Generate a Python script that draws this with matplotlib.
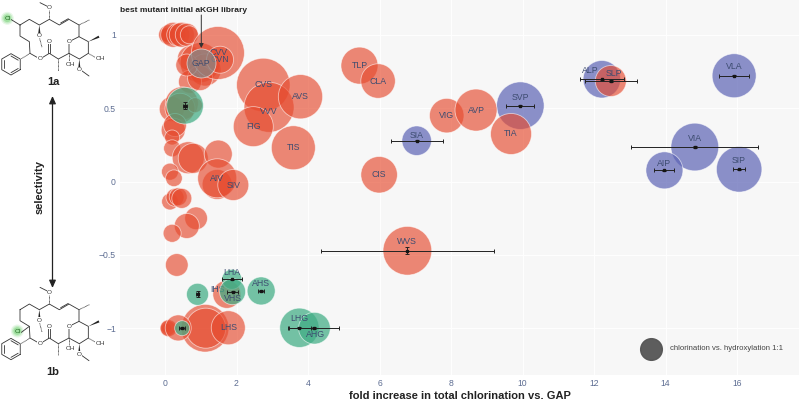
import numpy as np
import matplotlib
matplotlib.use("Agg")
import matplotlib.pyplot as plt
from matplotlib.patches import Circle, Polygon

plt.rcParams['font.family'] = ['Liberation Sans', 'DejaVu Sans']

# red mutants, unlabelled ones have an empty name
red_names = ["TLP", "CLA", "VIG", "AVP", "TIA", "CIS", "WVS", "SLP", "CVV", "CVN", "CVS", "VVV", "AVS", "FIG", "TIS",
             "AIV", "SIV", "IHS", "LHS"]
red_x = [5.44, 5.96, 7.88, 8.70, 9.68, 5.99, 6.78, 12.47, 1.48, 1.54, 2.75, 2.91, 3.79, 2.47, 3.59,
         1.46, 1.91, 1.73, 1.77]
red_y = [0.79, 0.685, 0.449, 0.487, 0.324, 0.046, -0.472, 0.685, 0.876, 0.83, 0.658, 0.506, 0.578, 0.374, 0.23,
         0.022, -0.024, -0.769, -0.997]
red_d = [37, 34.5, 34.5, 42, 41, 36.5, 48.7, 31, 53, 27, 53.5, 50, 44.3, 40, 44,
         39, 31, 28, 34]

small_x = [0.03, 0.07, 0.10, 0.23, 0.37, 0.47, 0.61, 0.68, 0.70, 0.98, 1.12, 0.70, 0.98, 0.61,
           0.19, 0.47, 0.42, 0.84, 0.23, 0.28, 0.20, 0.20, 0.65, 0.79, 1.49, 1.46, 0.14, 0.25,
           0.14, 0.28, 0.37, 0.47, 0.87, 0.61, 0.20, 0.33, 1.12, 1.14, 0.04, 0.08, 0.10, 0.37]
small_y = [1.0, 1.0, 1.0, 1.0, 1.0, 1.0, 1.0, 1.0, 0.84, 0.81, 0.76, 0.68, 0.705, 0.794,
           0.494, 0.533, 0.499, 0.52, 0.35, 0.385, 0.30, 0.226, 0.162, 0.158, 0.187, -0.02, 0.067, 0.022,
           -0.137, -0.108, -0.104, -0.115, -0.251, -0.303, -0.353, -0.569, -1.0, -1.0, -1.0, -1.0, -1.0, -0.998]
small_d = [13, 15, 20, 25, 23, 25, 23, 18, 25, 40, 32, 23, 25, 22,
           25, 33, 30, 15, 24, 23, 15, 17, 32, 30, 28, 30, 17, 16.7,
           16.7, 18, 18, 20, 22.7, 25, 18, 22.7, 47.7, 40, 10, 15, 17, 26]

blue_names = ["SIA", "SVP", "ALP", "VLA", "VIA", "AIP", "SIP"]
blue_x = [7.04, 9.94, 12.22, 15.92, 14.82, 13.97, 16.06]
blue_y = [0.278, 0.517, 0.697, 0.721, 0.235, 0.076, 0.083]
blue_d = [29.5, 47.5, 37.5, 44, 47.7, 37, 45.5]

green_names = ["", "LHA", "AHS", "VHS", "", "", "LHG", "AHG"]
green_x = [0.56, 1.87, 2.69, 1.89, 0.91, 0.48, 3.76, 4.18]
green_y = [0.517, -0.667, -0.746, -0.751, -0.769, -1.0, -0.997, -1.0]
green_d = [36.7, 20, 28, 26, 22, 15, 39.3, 31.7]

gap_x, gap_y, gap_d = [1.0], [0.806], [29]
key_x, key_y, key_d = [13.6], [-1.14], [21.7]

err_x = [9.94, 7.04, 12.22, 12.47, 15.92, 14.82, 13.97, 16.06, 6.78, 0.56, 1.87, 2.69, 1.89, 0.91, 0.48, 3.76, 4.18]
err_y = [0.517, 0.278, 0.697, 0.685, 0.721, 0.235, 0.076, 0.083, -0.472, 0.517, -0.667, -0.746, -0.751, -0.769,
         -1.0, -0.997, -1.0]
err_dx = [0.39, 0.73, 0.625, 0.73, 0.41, 1.78, 0.28, 0.16, 2.43, 0.06, 0.27, 0.09, 0.15, 0.03, 0.075, 0.32, 0.70]
err_dy = [0.005, 0.005, 0.005, 0.005, 0.005, 0.005, 0.005, 0.005, 0.023, 0.024, 0.005, 0.005, 0.005, 0.02,
          0.005, 0.005, 0.005]

x_ticks = [0, 2, 4, 6, 8, 10, 12, 14, 16]
y_ticks = [-1, -0.5, 0, 0.5, 1]
y_tick_labels = ["\u22121", "\u22120.5", "0", "0.5", "1"]

# text shift off the bubble centre, pixels
label_shift = {"SVP": (0, 8), "SIA": (0, 5), "VLA": (0, 9), "LHA": (0, 7), "AHS": (0, 7), "VHS": (0, -7),
               "LHG": (0, 9), "AHG": (1, -6), "AIP": (0, 7), "SIP": (0, 9), "VIA": (0, 9), "ALP": (-12, 9),
               "SLP": (3, 8), "WVS": (0, 9), "IHS": (-9, 5), "CVV": (1, 0), "CVS": (0, 0), "VVV": (0, -4)}

RED = (0.90, 0.29, 0.18, 0.65)
BLUE = (0.36, 0.39, 0.71, 0.7)
GREEN = (0.25, 0.68, 0.52, 0.72)
GREY = (0.53, 0.53, 0.53, 0.75)
RIM = (1, 1, 1, 0.6)
TICK = "#5d6d92"
LABEL = "#3d4c70"

fig = plt.figure(figsize=(7.99, 4), dpi=100)
ax = fig.add_axes([120 / 799, 25 / 400, 679 / 799, 375 / 400])
ax.set_xlim((120 - 165) / 35.75, (799 - 165) / 35.75)
ax.set_ylim((181.5 - 375) / 146.7, 181.5 / 146.7)
ax.set_facecolor("#f7f7f7")
for s in ax.spines.values():
    s.set_visible(False)
ax.grid(color="white", lw=0.7)
ax.set_axisbelow(True)
ax.set_xticks(x_ticks)
ax.set_yticks(y_ticks, y_tick_labels)
ax.tick_params(length=0, labelsize=6.2, labelcolor=TICK, pad=3)
ax.set_xlabel("fold increase in total chlorination vs. GAP", fontsize=8, fontweight="bold", color="#222222", labelpad=2)


def bubbles(x, y, d, color, z):
    area = (np.array(d) * 72 / 100) ** 2
    ax.scatter(x, y, s=area, color=[color], edgecolors=[RIM], linewidths=0.6, zorder=z)


def names(names_list, x, y, z):
    for n, a, b in zip(names_list, x, y):
        if n:
            ax.annotate(n, (a, b), xytext=label_shift.get(n, (0, 0)), textcoords="offset pixels", ha="center",
                        va="center", fontsize=6.3, color=LABEL, zorder=z)


bubbles(blue_x, blue_y, blue_d, BLUE, 2)
names(blue_names, blue_x, blue_y, 2.5)
bubbles(small_x, small_y, small_d, RED, 3)
bubbles(red_x, red_y, red_d, RED, 3)
names(red_names, red_x, red_y, 3.5)
bubbles(gap_x, gap_y, gap_d, GREY, 4)
ax.annotate("GAP", (gap_x[0], gap_y[0]), ha="center", va="center", fontsize=6.3, color=LABEL, zorder=4.5)
bubbles(green_x, green_y, green_d, GREEN, 5)
names(green_names, green_x, green_y, 5.5)
ax.scatter(key_x, key_y, s=(np.array(key_d) * 0.72) ** 2, color="#555555", alpha=0.95, zorder=3)
ax.annotate("chlorination vs. hydroxylation 1:1", (key_x[0], key_y[0]), xytext=(19, 0), textcoords="offset pixels",
            va="center", fontsize=5.6, color="#444444")

ax.errorbar(err_x, err_y, xerr=err_dx, yerr=err_dy, fmt="s", ms=1.8, color="#151515", ecolor="#222222",
            elinewidth=0.7, capsize=1.4, capthick=0.7, zorder=7)

# everything outside the plot sits on a pixel overlay
ov = fig.add_axes([0, 0, 1, 1])
ov.set_xlim(0, 799)
ov.set_ylim(400, 0)
ov.axis("off")
ov.patch.set_alpha(0)

ov.text(183, 10.5, "best mutant initial aKGH library", ha="center", va="center", fontsize=6, fontweight="bold",
        color="#222222")
ov.annotate("", xy=(201.3, 48), xytext=(201.3, 15), arrowprops=dict(arrowstyle="-|>,head_width=0.13,head_length=0.25",
                                                                    color="#333333", lw=0.7, shrinkA=0, shrinkB=0))
ov.annotate("", xy=(52.5, 96), xytext=(52.5, 288), arrowprops=dict(arrowstyle="<|-|>,head_width=0.2,head_length=0.45",
                                                                   color="#222222", lw=0.9, shrinkA=0, shrinkB=0))
ov.text(39.5, 187, "selectivity", rotation=90, ha="center", va="center", fontsize=8, fontweight="bold", color="#222222")
ov.text(53, 82, "1a", ha="center", va="center", fontsize=8, fontweight="bold", color="#222222")
ov.text(53, 372, "1b", ha="center", va="center", fontsize=8, fontweight="bold", color="#222222")


def molecule(dy, cl_at, cl_text):
    def P(x, y):
        return x / 3, y / 3 + dy

    def line(pts, lw=0.6, ls="-"):
        xs, ys = zip(*[P(*p) for p in pts])
        ov.plot(xs, ys, color="#333333", lw=lw, ls=ls, solid_capstyle="round")

    def label(x, y, s):
        ov.text(*P(x, y), s, ha="center", va="center", fontsize=4.6, color="#333333",
                bbox=dict(fc="white", ec="none", pad=0.2), zorder=4)

    def wedge(a, b):
        ax_, ay_ = P(*a)
        bx_, by_ = P(*b)
        nx, ny = by_ - ay_, ax_ - bx_
        n = np.hypot(nx, ny)
        ov.add_patch(Polygon([(ax_, ay_), (bx_ + nx / n * 1.1, by_ + ny / n * 1.1),
                              (bx_ - nx / n * 1.1, by_ - ny / n * 1.1)], color="#222222", lw=0))

    # macrocycle and pyran ring
    line([(60, 75), (88, 58), (118, 75), (148, 58), (178, 75), (207, 58), (237, 75), (237, 110), (207, 125),
          (207, 160), (175, 177), (148, 160), (120, 177), (90, 160), (88, 125), (60, 108), (60, 75)])
    line([(237, 110), (265, 125), (265, 160), (238, 177), (207, 160)])
    line([(182, 69), (205, 56)])
    # substituents
    line([(148, 58), (148, 30)], ls=(0, (1, 0.6)))
    line([(148, 22), (120, 8)])
    wedge((118, 75), (118, 100))
    line([(118, 112), (126, 142)], ls=(0, (1, 0.6)))
    line([(237, 75), (268, 60)], ls=(0, (1, 0.6)))
    wedge((265, 125), (297, 110))
    line([(265, 160), (285, 172)], ls=(0, (1, 0.6)))
    wedge((238, 177), (238, 205))
    line([(245, 212), (267, 228)])
    line([(207, 160), (207, 182)], ls=(0, (1, 0.6)))
    line([(175, 177), (175, 212)], ls=(0, (1, 0.6)))
    line([(145, 160), (145, 130)])
    line([(151, 160), (151, 130)])
    line([(90, 160), (63, 177)], ls=(0, (1, 0.6)))
    # phenyl
    hx = [33 + 32 * np.cos(np.radians(30 + 60 * k)) for k in range(7)]
    hy = [193 + 32 * np.sin(np.radians(30 + 60 * k)) for k in range(7)]
    line(list(zip(hx, hy)))
    for k in (0, 2, 4):
        line([(33 + 0.78 * (hx[k] - 33), 193 + 0.78 * (hy[k] - 193)),
              (33 + 0.78 * (hx[k + 1] - 33), 193 + 0.78 * (hy[k + 1] - 193))])
    # hetero atoms
    label(148, 22, "O")
    label(118, 106, "O")
    label(207, 125, "O")
    label(148, 124, "O")
    label(120, 177, "O")
    label(238, 208, "O")
    label(212, 192, "OH")
    label(300, 175, "OH")
    # chlorine with its glow
    cx, cy = P(*cl_text)
    for r, a in ((6.5, 0.12), (5.2, 0.2), (3.8, 0.3)):
        ov.add_patch(Circle((cx, cy), r, color="#43c343", alpha=a, lw=0))
    line([cl_at, (cl_text[0] + 12, cl_text[1] + 4)])
    ov.text(cx, cy, "Cl", ha="center", va="center", fontsize=4.6, color="#226622", zorder=4)


molecule(0, (60, 75), (22, 55))
molecule(284.7, (88, 125), (52, 139))

fig.savefig("out.png", dpi=100)
